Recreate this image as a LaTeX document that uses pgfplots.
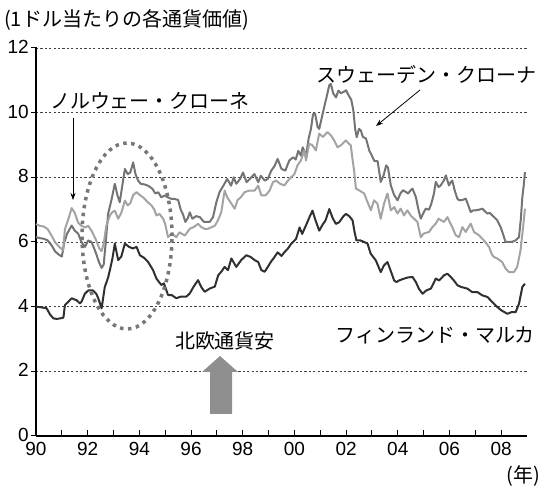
\documentclass[border=0pt]{standalone}
\usepackage{fontspec}
\setmainfont{Noto Sans CJK JP}
\newfontfamily\numfont{Liberation Sans}
\usepackage{pgfplots}
\pgfplotsset{compat=1.18}
\usetikzlibrary{arrows.meta}
\definecolor{sekgray}{HTML}{747474}
\definecolor{nokgray}{HTML}{A3A3A3}
\definecolor{fimgray}{HTML}{303030}
\definecolor{dotgray}{HTML}{777777}
\definecolor{arrowgray}{HTML}{8F8F8F}

\pgfplotstableread{
x y
90.00 6.15
90.15 6.12
90.30 6.10
90.45 6.05
90.60 5.90
90.75 5.70
90.90 5.60
91.00 5.55
91.10 6.00
91.20 6.25
91.38 6.51
91.50 6.35
91.63 6.26
91.76 6.00
91.90 5.85
92.02 6.05
92.15 6.00
92.30 5.70
92.45 5.35
92.54 5.20
92.62 5.30
92.70 6.00
92.79 6.87
92.92 7.30
93.05 7.80
93.15 7.45
93.24 7.23
93.35 7.80
93.44 8.26
93.55 8.10
93.65 8.15
93.76 8.46
93.85 8.10
93.95 7.90
94.05 7.80
94.20 7.78
94.34 7.74
94.50 7.65
94.62 7.50
94.73 7.54
94.85 7.38
94.98 7.44
95.10 7.38
95.25 7.33
95.37 7.33
95.50 7.30
95.60 7.00
95.69 6.85
95.78 6.62
95.88 6.75
95.95 6.92
96.05 6.72
96.20 6.80
96.34 6.77
96.50 6.62
96.72 6.62
96.85 6.77
96.98 7.23
97.10 7.54
97.25 7.74
97.40 7.95
97.55 7.74
97.65 8.00
97.75 7.80
97.90 7.95
98.01 8.15
98.15 7.85
98.33 8.00
98.45 8.10
98.60 7.85
98.70 8.05
98.85 7.90
98.97 7.95
99.10 8.20
99.23 8.35
99.35 8.57
99.50 8.26
99.65 8.21
99.80 8.52
99.95 8.62
100.05 8.55
100.15 8.82
100.25 8.67
100.32 8.93
100.45 8.67
100.55 9.20
100.64 9.50
100.72 9.95
100.80 9.97
100.90 9.55
100.96 9.50
101.08 9.92
101.16 10.20
101.25 10.50
101.35 10.85
101.41 10.89
101.50 10.60
101.61 10.47
101.70 10.68
101.80 10.60
101.90 10.64
102.00 10.69
102.10 10.53
102.20 10.40
102.28 10.07
102.35 9.50
102.41 9.24
102.50 9.50
102.57 9.45
102.65 9.25
102.77 9.20
102.90 8.82
102.96 8.73
103.10 8.50
103.22 8.50
103.34 7.86
103.45 8.06
103.55 8.37
103.62 8.30
103.73 7.75
103.86 7.45
103.99 7.29
104.10 7.50
104.20 7.60
104.31 7.55
104.40 7.50
104.50 7.60
104.57 7.65
104.70 7.39
104.80 7.00
104.89 6.72
104.98 6.88
105.08 7.03
105.21 7.00
105.30 7.19
105.40 7.50
105.47 7.86
105.58 7.70
105.66 7.75
105.78 7.90
105.86 8.06
105.98 7.75
106.05 7.85
106.11 7.90
106.20 7.60
106.30 7.35
106.37 7.29
106.50 7.30
106.63 7.34
106.72 7.15
106.82 6.93
106.92 6.98
107.01 6.98
107.15 7.00
107.27 7.03
107.37 6.95
107.47 6.88
107.56 6.90
107.66 6.82
107.75 6.75
107.85 6.67
107.98 6.46
108.05 6.30
108.17 6.00
108.27 6.00
108.37 6.00
108.47 6.02
108.56 6.05
108.69 6.15
108.76 6.70
108.82 7.39
108.88 7.80
108.92 8.16
}\sek

\pgfplotstableread{
x y
90.00 6.55
90.15 6.50
90.30 6.48
90.45 6.40
90.60 6.20
90.75 5.98
90.90 5.85
91.00 5.78
91.05 5.75
91.12 6.40
91.25 6.70
91.38 7.05
91.50 6.90
91.63 6.60
91.76 6.50
91.90 6.45
92.02 6.50
92.15 6.35
92.30 6.10
92.45 5.80
92.54 5.72
92.62 5.95
92.72 6.50
92.86 6.82
92.95 6.92
93.05 6.97
93.18 6.72
93.30 6.90
93.44 7.28
93.55 7.13
93.65 7.20
93.76 7.45
93.89 7.54
94.02 7.45
94.15 7.38
94.30 7.25
94.47 7.13
94.58 7.00
94.66 6.82
94.78 6.87
94.92 6.72
95.00 6.55
95.11 6.15
95.25 6.26
95.43 6.15
95.55 6.30
95.65 6.25
95.76 6.20
95.85 6.30
95.95 6.41
96.10 6.46
96.27 6.56
96.40 6.46
96.55 6.40
96.66 6.41
96.80 6.46
96.92 6.50
97.04 6.67
97.17 6.92
97.30 7.59
97.40 7.38
97.55 7.20
97.69 7.03
97.80 7.30
97.92 7.38
98.07 7.54
98.25 7.59
98.46 7.59
98.60 7.74
98.72 7.44
98.88 7.44
99.04 7.59
99.17 7.85
99.29 7.90
99.45 7.80
99.61 7.75
99.75 7.90
99.87 8.00
100.00 8.10
100.12 8.37
100.25 8.52
100.38 8.83
100.45 8.52
100.57 9.04
100.70 8.99
100.83 8.83
100.96 9.35
101.10 9.25
101.28 9.40
101.41 9.30
101.54 9.14
101.67 8.93
101.80 8.99
101.99 9.14
102.10 9.05
102.18 8.99
102.25 8.55
102.31 8.21
102.38 7.65
102.50 7.60
102.60 7.55
102.70 7.50
102.80 7.29
102.96 6.98
103.08 7.29
103.21 7.19
103.34 6.72
103.47 7.19
103.60 7.50
103.73 6.98
103.86 7.08
103.99 6.88
104.11 7.03
104.24 6.82
104.37 6.98
104.50 6.82
104.63 6.72
104.76 6.62
104.89 6.15
105.00 6.26
105.21 6.31
105.34 6.46
105.47 6.57
105.58 6.72
105.79 6.62
105.92 6.77
106.02 6.60
106.11 6.46
106.24 6.21
106.37 6.15
106.50 6.46
106.63 6.31
106.82 6.57
106.95 6.31
107.14 6.21
107.33 6.05
107.53 5.85
107.65 5.60
107.72 5.54
107.85 5.49
108.04 5.38
108.17 5.18
108.30 5.07
108.50 5.07
108.62 5.23
108.75 5.74
108.85 6.46
108.92 7.03
}\nok

\pgfplotstableread{
x y
90.00 4.00
90.20 3.98
90.41 3.95
90.55 3.75
90.67 3.64
90.80 3.62
90.95 3.64
91.06 3.66
91.12 4.05
91.25 4.15
91.38 4.26
91.50 4.22
91.57 4.20
91.70 4.10
91.76 4.15
91.89 4.40
92.02 4.50
92.21 4.50
92.33 4.40
92.41 4.26
92.54 3.95
92.66 4.60
92.79 4.90
92.86 5.13
92.96 5.50
93.05 5.95
93.18 5.44
93.30 5.55
93.44 5.95
93.60 5.85
93.75 5.80
93.89 5.85
94.02 5.59
94.20 5.50
94.34 5.38
94.53 5.13
94.66 4.87
94.85 4.67
94.95 4.72
95.11 4.36
95.25 4.36
95.43 4.26
95.60 4.31
95.82 4.31
95.95 4.41
96.10 4.62
96.27 4.82
96.40 4.60
96.53 4.46
96.72 4.56
96.92 4.62
97.05 4.97
97.17 5.08
97.30 5.23
97.43 5.13
97.56 5.49
97.75 5.23
97.94 5.44
98.14 5.59
98.30 5.54
98.46 5.44
98.60 5.38
98.72 5.13
98.85 5.08
98.97 5.23
99.10 5.40
99.20 5.50
99.35 5.68
99.50 5.57
99.61 5.68
99.75 5.80
99.87 5.94
100.06 6.09
100.20 6.45
100.30 6.25
100.45 6.52
100.60 6.80
100.70 6.97
100.80 6.71
100.96 6.35
101.10 6.55
101.20 6.66
101.35 7.02
101.47 6.76
101.60 6.56
101.73 6.61
101.90 6.80
101.99 6.87
102.12 6.80
102.25 6.67
102.33 6.30
102.40 6.05
102.55 6.05
102.70 6.00
102.83 5.95
102.95 5.64
103.15 5.43
103.34 5.07
103.47 5.28
103.60 5.38
103.73 5.10
103.86 4.81
103.95 4.76
104.05 4.81
104.18 4.85
104.37 4.90
104.57 4.92
104.70 4.76
104.82 4.55
104.96 4.40
105.10 4.50
105.28 4.56
105.40 4.75
105.47 4.87
105.60 4.81
105.79 4.97
105.92 5.02
106.05 4.92
106.18 4.80
106.31 4.66
106.45 4.61
106.69 4.56
106.88 4.45
107.08 4.45
107.27 4.35
107.47 4.30
107.66 4.14
107.85 3.99
108.00 3.89
108.24 3.78
108.40 3.83
108.56 3.83
108.69 4.09
108.82 4.61
108.92 4.71
}\fim

\begin{document}
\begin{tikzpicture}
\useasboundingbox (-36pt,-52pt) rectangle (506pt,436pt);
\begin{axis}[
  scale only axis, width=491pt, height=388pt,
  xmin=90, xmax=109, ymin=0, ymax=12,
  axis x line*=bottom, axis y line*=left,
  axis line style={-, line width=1.1pt, black},
  xtick={90,92,...,108},
  xticklabels={90,92,94,96,98,00,02,04,06,08},
  minor xtick={91,93,...,107},
  ytick={0,2,...,12},
  /pgf/number format/assume math mode=true,
  tick align=inside,
  major tick length=6pt, minor tick length=6pt,
  tick style={black, line width=1pt},
  ytick style={xshift=-5pt},
  ymajorgrids,
  grid style={black!75, line width=0.7pt, dash pattern=on 2.2pt off 2.2pt},
  ticklabel style={font=\numfont\fontsize{19}{19}\selectfont},
  yticklabel style={inner sep=1pt, xshift=-6pt, yshift=1pt},
  xticklabel style={inner sep=1pt, yshift=-5pt},
  clip=false,
]
\addplot[sekgray, line width=2pt, line join=round, no markers] table {\sek};
\addplot[nokgray, line width=2pt, line join=round, no markers] table {\nok};
\addplot[fimgray, line width=2pt, line join=round, no markers] table {\fim};
\end{axis}

% annotations, placed in pt relative to the axis box
\draw[dotgray, line width=3.5pt, dash pattern=on 3.5pt off 4.5pt] (91pt,200pt) ellipse [x radius=45pt, y radius=93pt];
\fill[arrowgray] (174pt,22pt) -- (196pt,22pt) -- (196pt,64pt) -- (202pt,64pt) -- (184pt,80pt) -- (166pt,64pt) -- (174pt,64pt) -- cycle;
\draw[line width=0.8pt, -{Stealth[length=7pt,width=5pt]}] (37pt,318pt) -- (37pt,236pt);
\draw[line width=0.8pt, -{Stealth[length=7pt,width=5pt]}] (384pt,346pt) -- (340pt,310pt);

\begin{scope}[every node/.style={inner sep=0pt, font=\fontsize{20}{20}\selectfont}]
\node[anchor=west] at (-32pt,416pt) {(1ドル当たりの各通貨価値)};
\node at (114pt,335pt) {ノルウェー・クローネ};
\node at (390pt,361pt) {スウェーデン・クローナ};
\node at (399pt,101pt) {フィンランド・マルカ};
\node at (189pt,95pt) {北欧通貨安};
\node[anchor=east] at (504pt,-40pt) {(年)};
\end{scope}
\end{tikzpicture}
\end{document}
